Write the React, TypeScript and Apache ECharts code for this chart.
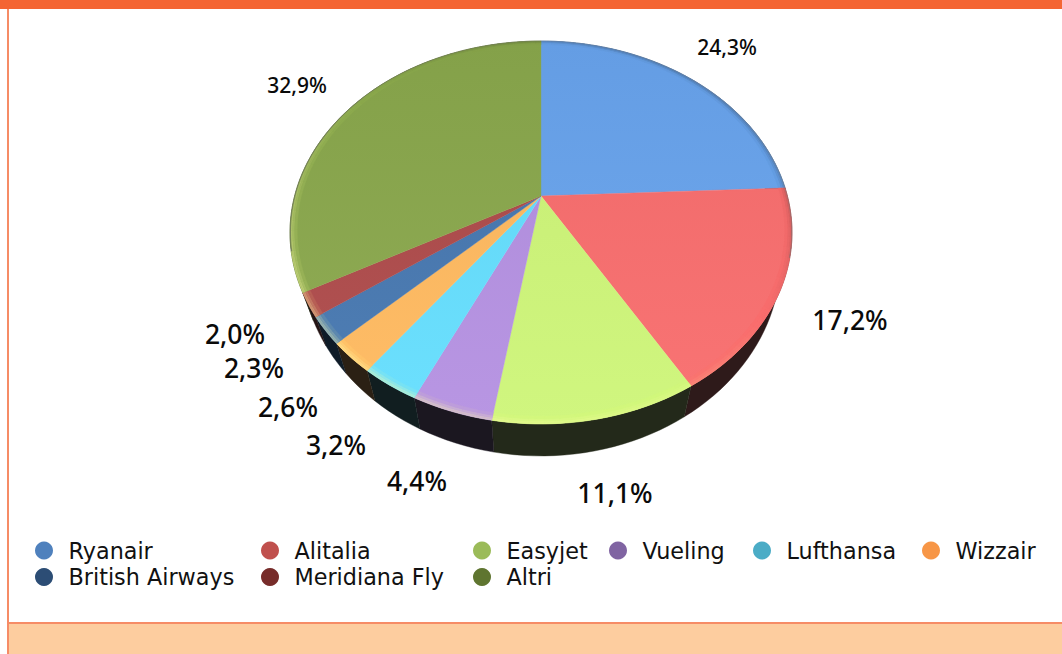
import React, { useEffect, useRef } from "react";
import * as echarts from "echarts";

const carriers = ["Ryanair", "Alitalia", "Easyjet", "Vueling", "Lufthansa", "Wizzair", "British Airways", "Meridiana Fly", "Altri"];
const shares = [24.3, 17.2, 11.1, 4.4, 3.2, 2.6, 2.3, 2.0, 32.9];

const faceColors = ["#68a4ed", "#f96d6d", "#cef678", "#b490e2", "#64defe", "#ffb95f", "#4677b0", "#ae4a4a", "#8aa84c"];
const wallColors = ["#141e2c", "#2e1a1a", "#23291a", "#1b1720", "#111e20", "#2b2014", "#0f1c28", "#241414", "#1b2310"];
const legendColors = ["#4f81bd", "#c0504d", "#9bbb59", "#8064a2", "#4bacc6", "#f79646", "#2c4d75", "#772c2a", "#5f7530"];

const labelCentres = [[727, 47], [850, 320], [615, 493], [417, 481], [336, 445], [288, 407], [254, 368], [235, 334], [297, 85]];
const labelSizes = [21, 26.5, 26.5, 26.5, 26.5, 26.5, 26.5, 26.5, 21];

const legendColumns = [
  { left: 35, names: ["Ryanair", "British Airways"] },
  { left: 261, names: ["Alitalia", "Meridiana Fly"] },
  { left: 473, names: ["Easyjet", "Altri"] },
  { left: 609, names: ["Vueling"] },
  { left: 753, names: ["Lufthansa"] },
  { left: 922, names: ["Wizzair"] },
];

const APEX_X = 541, APEX_Y = 196, A = 246.4, B = 184.5, K = 0.1906;
const FONT = '"Noto Sans", sans-serif';
const LEGEND_FONT = '"DejaVu Sans", sans-serif';

const project = (deg: number, r = 1) => {
  const t = (deg * Math.PI) / 180;
  const u = Math.sin(t) * r, v = Math.cos(t) * r;
  const w = 1 + K * v;
  return [APEX_X + (A * u) / w, APEX_Y - (B * v) / w];
};
const lower = (p: number[]) => {
  const y = p[1] + 32 - (424 - p[1]) * 0.03;
  return [APEX_X + (p[0] - APEX_X) * 0.955, y];
};
const hex = (c: string) => [1, 3, 5].map((i) => parseInt(c.slice(i, i + 2), 16));
const mix = (c: string, to: number[], a: number) => {
  const h = hex(c);
  const m = h.map((x, i) => Math.round(x + (to[i] - x) * a));
  return `rgb(${m[0]},${m[1]},${m[2]})`;
};
const WHITE = [255, 255, 170], BLACK = [20, 20, 20], GREY = [100, 100, 100];

const arc = (a0: number, a1: number, r = 1) => {
  const n = Math.max(2, Math.ceil((a1 - a0) / 2));
  const pts: number[][] = [];
  for (let i = 0; i <= n; i++) pts.push(project(a0 + ((a1 - a0) * i) / n, r));
  return pts;
};

const starts: number[] = [];
shares.reduce((acc, s) => {
  starts.push((acc / 100) * 360);
  return acc + s;
}, 0);
const ends = shares.map((s, i) => starts[i] + (s / 100) * 360);

const rimBands = [
  { r0: 0.996, r1: 1.0, w: 1.0, edge: true },
  { r0: 0.99, r1: 0.996, w: 0.85, edge: false },
  { r0: 0.982, r1: 0.99, w: 0.55, edge: false },
  { r0: 0.972, r1: 0.982, w: 0.25, edge: false },
];

function rimColor(base: string, deg: number, w: number, edge: boolean) {
  const t = (deg * Math.PI) / 180;
  const L = -0.6 * Math.sin(t) - 0.8 * Math.cos(t);
  if (edge && Math.cos(t) > -0.3) return mix(base, GREY, 0.6);
  if (L >= 0) return mix(base, WHITE, 0.5 * L * w);
  return mix(base, BLACK, 0.32 * -L * w);
}

function sliceFace(i: number) {
  const base = faceColors[i];
  const children: any[] = [];
  const pts = [[APEX_X, APEX_Y], ...arc(starts[i], ends[i])];
  const fill = new echarts.graphic.LinearGradient(
    0, 41, 0, 424,
    [
      { offset: 0, color: mix(base, [0, 0, 0], 0.04) },
      { offset: 1, color: mix(base, [255, 255, 255], 0.05) },
    ],
    true
  );
  children.push({ type: "polygon", shape: { points: pts }, style: { fill, stroke: base, lineWidth: 0.4 } });
  const step = 3;
  for (const b of rimBands) {
    for (let a = starts[i]; a < ends[i] - 0.001; a += step) {
      const e = Math.min(a + step, ends[i]);
      const c = rimColor(base, (a + e) / 2, b.w, b.edge);
      children.push({
        type: "polygon",
        shape: { points: [...arc(a, e, b.r1), ...arc(a, e, b.r0).reverse()] },
        style: { fill: c, stroke: c, lineWidth: 0.3 },
      });
    }
  }
  return { type: "group", children };
}

function wallsGroup() {
  return {
    type: "group",
    children: carriers.map((_, i) => {
      const up = arc(starts[i], ends[i]);
      const down = up.map(lower).reverse();
      return {
        type: "polygon",
        shape: { points: [...up, ...down] },
        style: { fill: wallColors[i], stroke: wallColors[i], lineWidth: 0.4 },
      };
    }),
  };
}

const frame = [
  { type: "rect", shape: { x: 0, y: 0, width: 1062, height: 9 }, style: { fill: "#f46533" } },
  { type: "rect", shape: { x: 7, y: 9, width: 2, height: 645 }, style: { fill: "#f68c66" } },
  { type: "rect", shape: { x: 9, y: 622, width: 1053, height: 2 }, style: { fill: "#f68c66" } },
  { type: "rect", shape: { x: 9, y: 624, width: 1053, height: 30 }, style: { fill: "#fdcd9f" } },
];

const App = () => {
  const ref = useRef<HTMLDivElement>(null);
  useEffect(() => {
    document.body.style.margin = "0";
    const chart = echarts.init(ref.current!, undefined, { renderer: "svg" });
    chart.setOption({
      animation: false,
      backgroundColor: "#ffffff",
      graphic: frame.map((f) => ({ ...f, silent: true })),
      legend: legendColumns.map((col) => ({
        left: col.left,
        top: 539,
        orient: "vertical",
        padding: 0,
        itemWidth: 18,
        itemHeight: 18,
        itemGap: 3.5,
        selectedMode: false,
        icon: "circle",
        textStyle: { fontFamily: LEGEND_FONT, fontSize: 22.3, color: "#111111", lineHeight: 18, padding: [0, 0, 5, 10.5] },
        data: col.names.map((name) => ({
          name,
          icon: "circle",
          itemStyle: { color: legendColors[carriers.indexOf(name)], borderWidth: 0 },
        })),
      })),
      series: [
        {
          type: "custom",
          name: "pareti",
          coordinateSystem: "none",
          silent: true,
          z: 1,
          data: [0],
          renderItem: () => wallsGroup(),
        },
        ...carriers.map((name, i) => ({
          type: "custom",
          name,
          coordinateSystem: "none",
          silent: true,
          z: 2,
          data: [shares[i]],
          itemStyle: { color: legendColors[i] },
          renderItem: () => sliceFace(i),
        })),
        {
          type: "custom",
          name: "etichette",
          coordinateSystem: "none",
          silent: true,
          z: 3,
          data: shares,
          renderItem: (_: any, api: any) => {
            const i = _.dataIndex;
            return {
              type: "text",
              x: labelCentres[i][0],
              y: labelCentres[i][1],
              style: {
                text: api.value(0).toFixed(1).replace(".", ",") + "%",
                fontFamily: FONT,
                fontWeight: 500,
                fontSize: labelSizes[i],
                fill: "#0a0a0a",
                align: "center",
                verticalAlign: "middle",
              },
            };
          },
        },
      ],
    });
    return () => chart.dispose();
  }, []);
  return <div ref={ref} style={{ width: 1062, height: 654 }} />;
};

export default App;
